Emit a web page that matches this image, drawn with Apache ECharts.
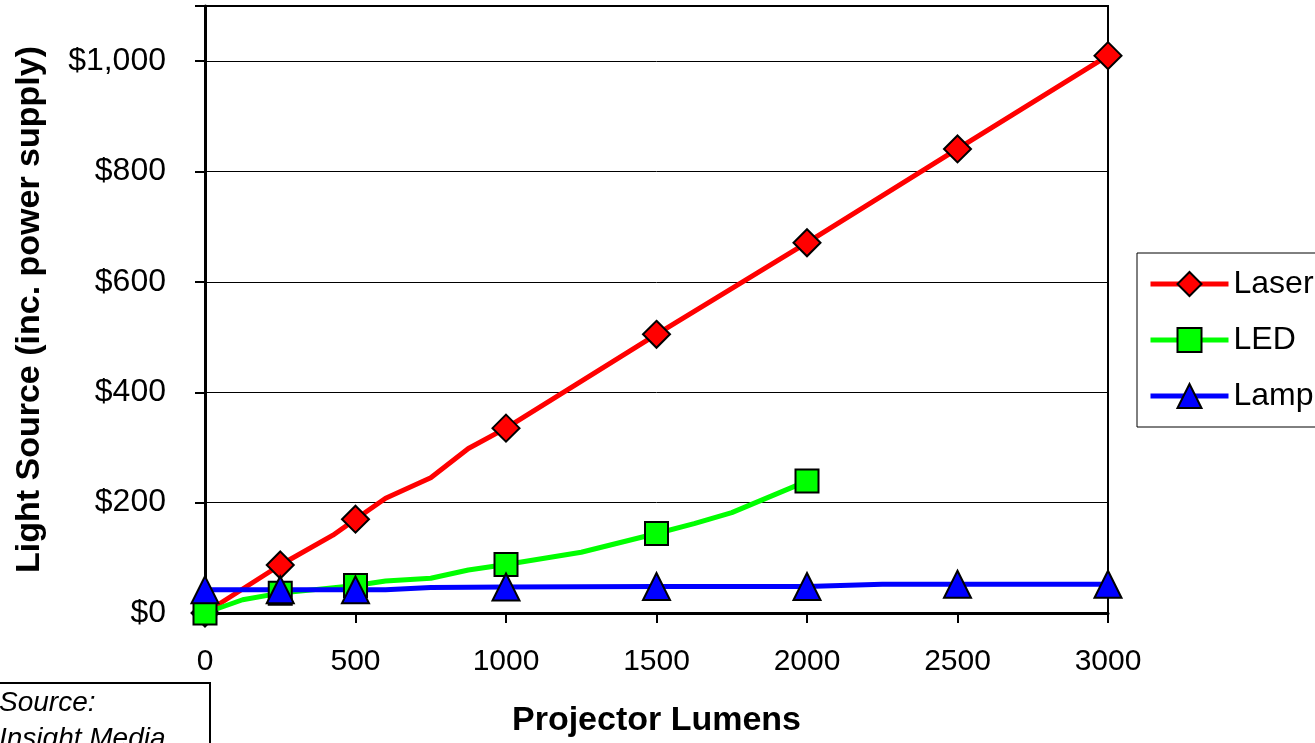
<!DOCTYPE html>
<html>
<head>
<meta charset="utf-8">
<script src="https://cdn.jsdelivr.net/npm/echarts@6/dist/echarts.min.js"></script>
<style>
  html, body { margin: 0; padding: 0; background: #fff; }
  #chart { width: 1315px; height: 743px; }
</style>
</head>
<body>
<div id="chart"></div>
<script>
// Light source cost versus projector brightness.
// Each series lists its vertices; the "marked" flags say which vertices carry a symbol.
const seriesNames = ['Laser', 'LED', 'Lamp'];

const laserLumens = [0, 250, 425, 500, 600, 750, 875, 1000, 1500, 2000, 2500, 3000];
const laserCost   = [0, 87, 141, 170, 208, 245, 298, 335, 505, 671, 841, 1010];
const laserMarked = [1, 1, 0, 1, 0, 0, 0, 1, 1, 1, 1, 1];

const ledLumens = [0, 125, 250, 500, 600, 750, 875, 1000, 1250, 1500, 1625, 1750, 2000];
const ledCost   = [0, 24, 36, 50, 58, 63, 78, 88, 110, 144, 162, 182, 239];
const ledMarked = [1, 0, 1, 1, 0, 0, 0, 1, 0, 1, 0, 0, 1];

const lampLumens = [0, 250, 500, 600, 750, 1000, 1500, 2000, 2250, 2500, 3000];
const lampCost   = [42, 42, 42, 42, 46, 47, 48, 48, 52, 52, 52];
const lampMarked = [1, 1, 1, 0, 0, 1, 1, 1, 0, 1, 1];

const xTicks = { min: 0, max: 3000, step: 500 };
const yTicks = { min: 0, max: 1100, step: 200 };

const FONT = '"Liberation Sans", Arial, sans-serif';

function buildPoints(xs, ys, marked) {
  return xs.map((x, i) => {
    const item = { value: [x, ys[i]] };
    if (!marked[i]) item.symbol = 'none';
    return item;
  });
}

function lineSeries(name, color, symbol, size, points) {
  return {
    name: name,
    type: 'line',
    data: points,
    symbol: symbol,
    symbolSize: size,
    showAllSymbol: true,
    lineStyle: { color: color, width: 5 },
    itemStyle: { color: color, borderColor: '#000', borderWidth: 2 },
    emphasis: { disabled: true },
    animation: false
  };
}

const chart = echarts.init(document.getElementById('chart'), null, { renderer: 'canvas' });

chart.setOption({
  backgroundColor: '#fff',
  animation: false,
  grid: {
    left: 205, right: 207, top: 6, bottom: 128,
    show: true, borderColor: '#000', borderWidth: 2, backgroundColor: 'transparent'
  },
  legend: {
    orient: 'vertical',
    left: 1137, top: 253,
    padding: [15, 120, 15, 11],
    itemWidth: 78, itemHeight: 30, itemGap: 24,
    borderColor: '#000', borderWidth: 1,
    backgroundColor: '#fff',
    lineStyle: { width: 5 },
    textStyle: { fontFamily: FONT, fontSize: 32, color: '#000' },
    data: seriesNames
  },
  xAxis: {
    type: 'value',
    min: xTicks.min, max: xTicks.max, interval: xTicks.step,
    name: 'Projector Lumens',
    nameLocation: 'middle',
    nameGap: 91,
    nameTextStyle: { fontFamily: FONT, fontSize: 34, fontWeight: 'bold', color: '#000' },
    axisLine: { show: true, onZero: false, lineStyle: { color: '#000', width: 3 } },
    axisTick: { show: true, inside: false, length: 10, lineStyle: { color: '#000', width: 2 } },
    axisLabel: { fontFamily: FONT, fontSize: 30, color: '#000', margin: 34, formatter: v => String(v) },
    splitLine: { show: false }
  },
  yAxis: {
    type: 'value',
    min: yTicks.min, max: yTicks.max, interval: yTicks.step,
    name: 'Light Source (inc. power supply)',
    nameLocation: 'middle',
    nameGap: 158,
    nameTextStyle: { fontFamily: FONT, fontSize: 34, fontWeight: 'bold', color: '#000' },
    axisLine: { show: true, lineStyle: { color: '#000', width: 3 } },
    axisTick: { show: true, inside: false, length: 10, lineStyle: { color: '#000', width: 2 } },
    axisLabel: {
      fontFamily: FONT, fontSize: 32, color: '#000', margin: 39,
      formatter: v => (v % yTicks.step === 0 ? '$' + v.toLocaleString('en-US') : '')
    },
    splitLine: { show: true, lineStyle: { color: '#000', width: 1 } }
  },
  series: [
    lineSeries('Laser', '#ff0000', 'diamond', 27, buildPoints(laserLumens, laserCost, laserMarked)),
    lineSeries('LED', '#00ff00', 'rect', 23, buildPoints(ledLumens, ledCost, ledMarked)),
    lineSeries('Lamp', '#0000ff', 'triangle', 27, buildPoints(lampLumens, lampCost, lampMarked))
  ],
  graphic: [
    {
      type: 'rect',
      shape: { x: -10, y: 683, width: 220, height: 80 },
      style: { fill: '#fff', stroke: '#000', lineWidth: 2 }
    },
    {
      type: 'text', x: -1, y: 703,
      style: { text: 'Source:', font: 'italic 28px ' + FONT, fill: '#000', textVerticalAlign: 'middle' }
    },
    {
      type: 'text', x: -1, y: 739,
      style: { text: 'Insight Media', font: 'italic 28px ' + FONT, fill: '#000', textVerticalAlign: 'middle' }
    }
  ]
});
</script>
</body>
</html>
